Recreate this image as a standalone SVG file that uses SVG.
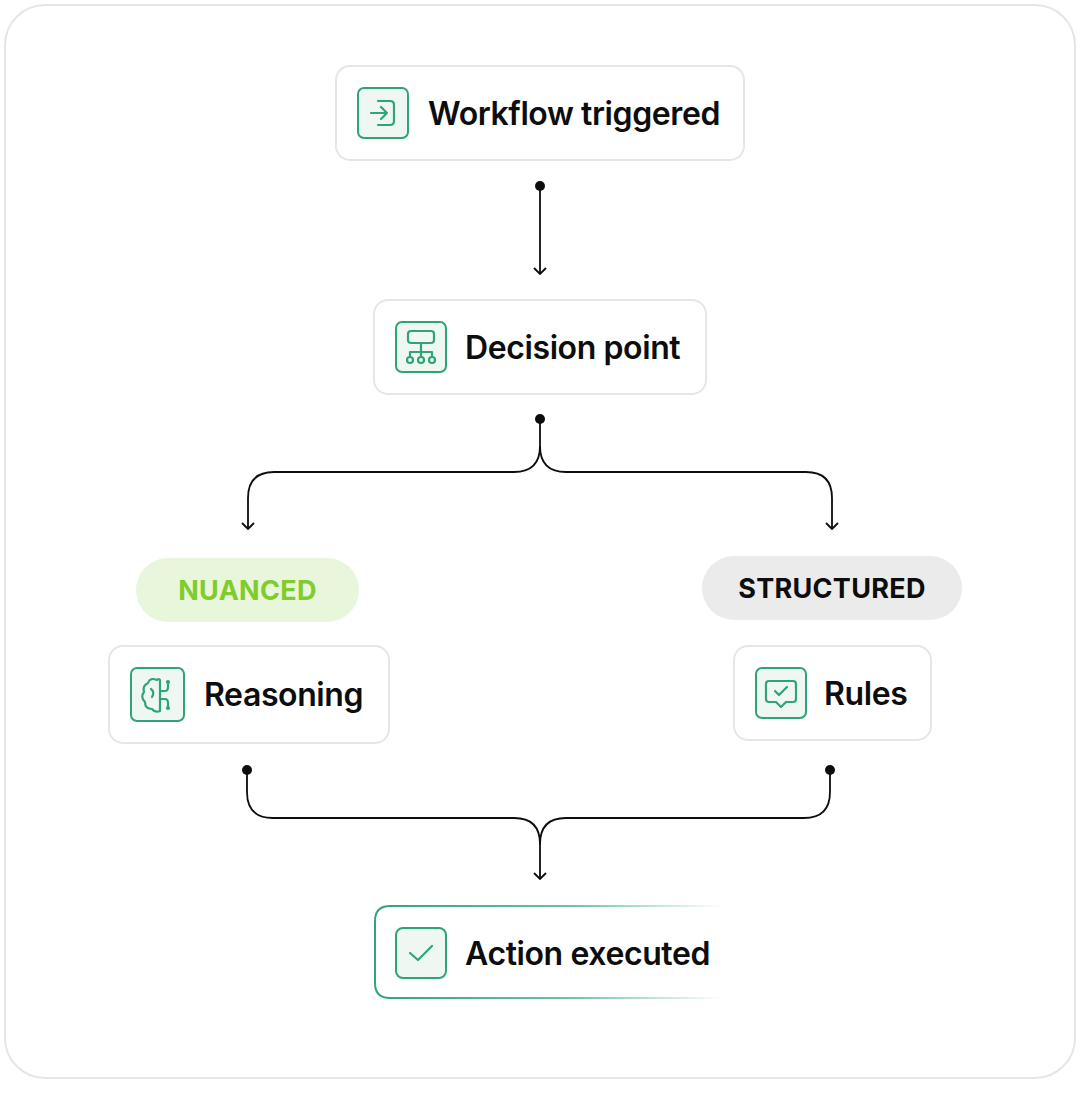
<svg xmlns="http://www.w3.org/2000/svg" width="1080" height="1096" viewBox="0 0 1080 1096">
<style>
.box{fill:#fff;stroke:#e6e6e6;stroke-width:2}
.ic{fill:#eef7f2;stroke:#2fa577;stroke-width:2}
.ig{fill:none;stroke:#2fa577;stroke-width:2.2;stroke-linecap:round;stroke-linejoin:round}
.t{font-family:Inter,"Liberation Sans",sans-serif;font-size:32px;font-weight:600;fill:#0d0d0d;letter-spacing:-0.4px}
.p{font-family:Inter,"Liberation Sans",sans-serif;font-size:27px;font-weight:700;text-anchor:middle;letter-spacing:0.3px}
.c{fill:none;stroke:#0d0d0d;stroke-width:1.8}
</style>
<defs>
<marker id="ar" viewBox="0 0 8 14" refX="7" refY="7" markerWidth="8" markerHeight="14" markerUnits="userSpaceOnUse" orient="auto"><path d="M1 1 L7 7 L1 13" fill="none" stroke="#0d0d0d" stroke-width="1.8"/></marker>
<linearGradient id="fade" x1="0" x2="1" y1="0" y2="0"><stop offset="0" stop-color="#2fa577"/><stop offset="0.55" stop-color="#2fa577" stop-opacity="0.7"/><stop offset="1" stop-color="#2fa577" stop-opacity="0"/></linearGradient>
</defs>
<rect x="5" y="5" width="1070" height="1073" rx="40" fill="#fff" stroke="#e6e6e6" stroke-width="2"/>
<g id="connectors">
<circle cx="540" cy="186" r="5" fill="#0d0d0d"/>
<path class="c" d="M540 186 V274" marker-end="url(#ar)"/>
<circle cx="540" cy="419" r="5" fill="#0d0d0d"/>
<path class="c" d="M540 419 V446 Q540 472 514 472 H274 Q248 472 248 498 V529" marker-end="url(#ar)"/>
<path class="c" d="M540 446 Q540 472 566 472 H806 Q832 472 832 498 V529" marker-end="url(#ar)"/>
<circle cx="247" cy="770" r="5" fill="#0d0d0d"/>
<circle cx="830" cy="770" r="5" fill="#0d0d0d"/>
<path class="c" d="M247 770 V792 Q247 818 273 818 H514 Q540 818 540 844 V879" marker-end="url(#ar)"/>
<path class="c" d="M830 770 V792 Q830 818 804 818 H566 Q540 818 540 844"/>
</g>
<g id="workflow">
<rect class="box" x="336" y="66" width="408" height="94" rx="14"/>
<rect class="ic" x="358" y="88" width="50" height="50" rx="6"/>
<path class="ig" d="M378 101 H390 Q394 101 394 105 V121 Q394 125 390 125 H378 M371 113 H387 M381 107 L387 113 L381 119"/>
<text class="t" x="428" y="125">Workflow triggered</text>
</g>
<g id="decision">
<rect class="box" x="374" y="300" width="332" height="94" rx="14"/>
<rect class="ic" x="396" y="322" width="50" height="50" rx="6"/>
<path class="ig" d="M411 331 H431 Q434 331 434 334 V340 Q434 343 431 343 H411 Q408 343 408 340 V334 Q408 331 411 331 Z M421 343 V356 M410 356 V352 H432 V356"/>
<circle class="ig" cx="410" cy="360" r="3"/><circle class="ig" cx="421" cy="360" r="3"/><circle class="ig" cx="432" cy="360" r="3"/>
<text class="t" x="465" y="359">Decision point</text>
</g>
<g id="nuanced">
<rect x="136" y="558" width="223" height="64" rx="32" fill="#e8f6dc"/>
<text class="p" x="247.5" y="600" fill="#7fcc2a">NUANCED</text>
</g>
<g id="structured">
<rect x="702" y="556" width="260" height="64" rx="32" fill="#ebebeb"/>
<text class="p" x="832" y="598" fill="#0d0d0d">STRUCTURED</text>
</g>
<g id="reasoning">
<rect class="box" x="109" y="646" width="280" height="97" rx="14"/>
<rect class="ic" x="131" y="668" width="53" height="53" rx="6"/>
<path class="ig" d="M157 680 Q150 677 148 683 Q142 686 144 692 Q140 697 145 702 Q145 709 152 709 Q155 713 160 711 V680 Q159 678 157 680 M160 691 H165 Q168 691 168 687 V684 M160 699 H165 Q168 699 168 703 V706 M151 689 Q155 692 152 697"/>
<circle class="ig" cx="168" cy="682" r="1"/><circle class="ig" cx="168" cy="708" r="1"/>
<text class="t" x="204" y="706">Reasoning</text>
</g>
<g id="rules">
<rect class="box" x="734" y="646" width="197" height="94" rx="14"/>
<rect class="ic" x="756" y="668" width="50" height="50" rx="6"/>
<path class="ig" d="M769 681 H793 Q796 681 796 684 V699 Q796 702 793 702 H786 L781 707 L776 702 H769 Q766 702 766 699 V684 Q766 681 769 681 Z M775 691 L779 695 L787 687"/>
<text class="t" x="824" y="705">Rules</text>
</g>
<g id="action">
<path d="M724 906 H390 Q375 906 375 921 V983 Q375 998 390 998 H724" fill="#fff" stroke="url(#fade)" stroke-width="2"/>
<rect class="ic" x="396" y="928" width="50" height="50" rx="7"/>
<path class="ig" d="M410 953 L418 960 L432 946"/>
<text class="t" x="465" y="965">Action executed</text>
</g>
</svg>
